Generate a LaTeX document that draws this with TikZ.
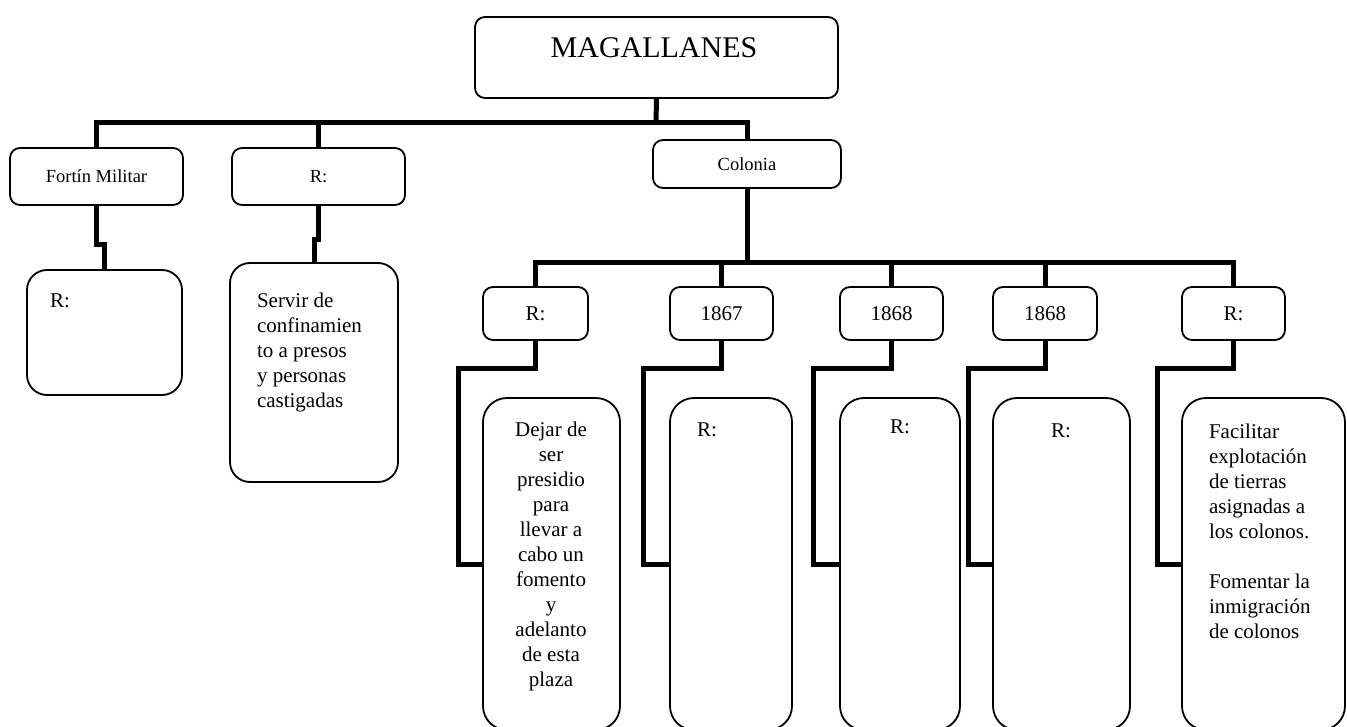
\documentclass[tikz,border=0pt]{standalone}
\usepackage{fontspec}
\setmainfont{Liberation Serif}
\begin{document}
\begin{tikzpicture}[x=1pt,y=-1pt,
  box/.style={draw=black, line width=1.8pt, rounded corners=10pt, inner sep=0pt, outer sep=0pt, anchor=north west},
  tallbox/.style={box, rounded corners=24pt},
  midbox/.style={box, rounded corners=20pt},
  conn/.style={draw=black, line width=5pt, line join=miter, line cap=butt},
  lblS/.style={font=\fontsize{18.5}{21}\selectfont},
  lblM/.style={font=\fontsize{21}{25}\selectfont},
  lblL/.style={font=\fontsize{30}{34}\selectfont},
  txt/.style={inner sep=0pt, outer sep=0pt, font=\fontsize{21}{25}\selectfont}
]
\useasboundingbox (0,0) rectangle (1347,727);
\fill[white] (0,0) rectangle (1347,727);

% top level
\node[box, minimum width=363pt, minimum height=81pt] (mag) at (475,17) {};
\node[lblL] (magt) at (654,48) {MAGALLANES};

\node[box, minimum width=173pt, minimum height=57pt, lblS] (fortin) at (10,148) {Fortín Militar};
\node[box, minimum width=173pt, minimum height=57pt, lblS] (r1) at (232,148) {R:};
\node[box, minimum width=188pt, minimum height=48pt, lblS] (colonia) at (653,140) {Colonia};

% children of left branches
\node[midbox, minimum width=155pt, minimum height=125pt] (fchild) at (27,270) {};
\node[txt, anchor=north west] (fchildt) at (50,294) {R:};
\node[midbox, minimum width=168pt, minimum height=219pt] (rchild) at (230,263) {};
\node[txt, anchor=north west, align=left] (rchildt) at (257,293)
  {Servir de\\confinamien\\to a presos\\y personas\\castigadas};

% second row
\node[box, minimum width=105pt, minimum height=53pt, lblM] (a) at (483,287) {R:};
\node[box, minimum width=103pt, minimum height=53pt, lblM] (b) at (670,287) {1867};
\node[box, minimum width=103pt, minimum height=53pt, lblM] (c) at (840,287) {1868};
\node[box, minimum width=104pt, minimum height=53pt, lblM] (d) at (993,287) {1868};
\node[box, minimum width=103pt, minimum height=53pt, lblM] (e) at (1182,287) {R:};

% tall boxes
\node[tallbox, minimum width=137pt, minimum height=332pt] (A) at (483,398) {};
\node[tallbox, minimum width=122pt, minimum height=332pt] (B) at (670,398) {};
\node[tallbox, minimum width=120pt, minimum height=332pt] (C) at (840,398) {};
\node[tallbox, minimum width=137pt, minimum height=332pt] (D) at (993,398) {};
\node[tallbox, minimum width=163pt, minimum height=332pt] (E) at (1182,398) {};

\node[txt, anchor=north, align=center] (At) at (551,422)
  {Dejar de\\ser\\presidio\\para\\llevar a\\cabo un\\fomento\\y\\adelanto\\de esta\\plaza};
\node[txt, anchor=north west] (Bt) at (697,423) {R:};
\node[txt, anchor=north] (Ct) at (900,420) {R:};
\node[txt, anchor=north] (Dt) at (1061,424) {R:};
\node[txt, anchor=north west, align=left] (Et) at (1209,424)
  {Facilitar\\explotación\\de tierras\\asignadas a\\los colonos.\\[25pt]Fomentar la\\inmigración\\de colonos};

% connectors, first level
\coordinate (bus1) at (656,123);
\draw[conn] (mag.south) -- (bus1);
\draw[conn] (fortin.north) |- (bus1) -| (colonia.north);
\draw[conn] (r1.north) -- (r1.north |- bus1);

\draw[conn] (fortin.south) -- ++(0,40) -| (fchild.north);
\draw[conn] (r1.south) -- ++(0,35) -| (rchild.north);

% second level
\coordinate (bus2) at (747,263);
\draw[conn] (colonia.south) -- (bus2);
\draw[conn] (a.north) |- (bus2) -| (e.north);
\draw[conn] (b.north) -- (b.north |- bus2);
\draw[conn] (c.north) -- (c.north |- bus2);
\draw[conn] (d.north) -- (d.north |- bus2);

% elbows into tall boxes
\draw[conn] (a.south) -- ++(0,28) -| ([xshift=-25pt]A.west) -- (A.west);
\draw[conn] (b.south) -- ++(0,28) -| ([xshift=-27pt]B.west) -- (B.west);
\draw[conn] (c.south) -- ++(0,28) -| ([xshift=-27pt]C.west) -- (C.west);
\draw[conn] (d.south) -- ++(0,28) -| ([xshift=-25pt]D.west) -- (D.west);
\draw[conn] (e.south) -- ++(0,28) -| ([xshift=-25pt]E.west) -- (E.west);
\end{tikzpicture}
\end{document}
